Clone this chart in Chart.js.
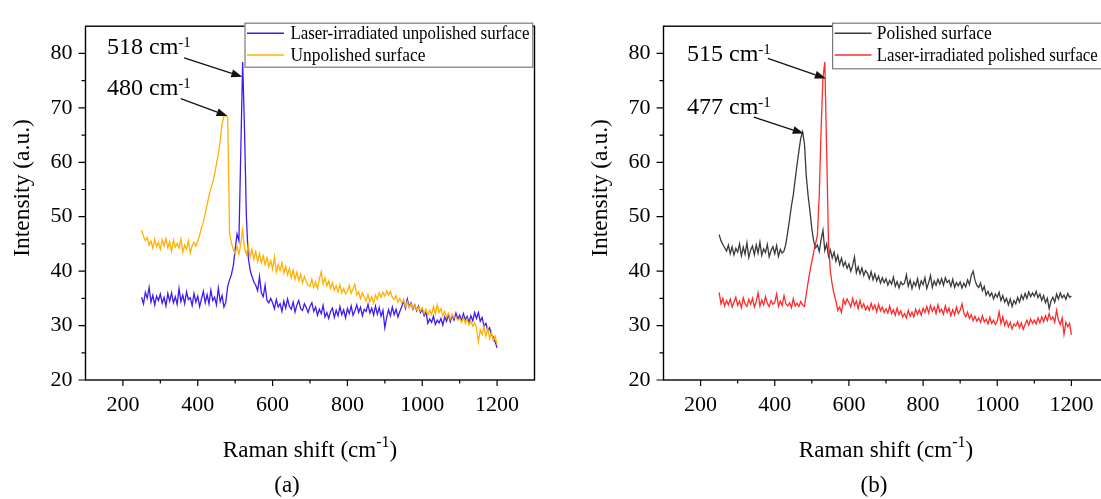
<!DOCTYPE html>
<html><head><meta charset="utf-8">
<script src="https://cdn.jsdelivr.net/npm/chart.js@4.4.1/dist/chart.umd.min.js"></script>
<style>
html,body{margin:0;padding:0;background:#fff;overflow:hidden;width:1101px;height:499px;}
#wa{position:absolute;left:0;top:0;width:550px;height:499px;}
#wb{position:absolute;left:550px;top:0;width:575px;height:499px;}
canvas{display:block;}
</style></head><body>
<div id="wa"><canvas id="ca" width="550" height="499"></canvas></div>
<div id="wb"><canvas id="cb" width="575" height="499"></canvas></div>
<script>
// ---- data ----
const ramanShift = [
250,255,260,265,270,275,280,285,290,295,
300,305,310,315,320,325,330,335,340,345,
350,355,360,365,370,375,380,385,390,395,
400,405,410,415,420,425,430,435,440,445,
450,455,460,465,470,475,480,485,490,495,
500,505,510,515,520,525,530,535,540,545,
550,555,560,565,570,575,580,585,590,595,
600,605,610,615,620,625,630,635,640,645,
650,655,660,665,670,675,680,685,690,695,
700,705,710,715,720,725,730,735,740,745,
750,755,760,765,770,775,780,785,790,795,
800,805,810,815,820,825,830,835,840,845,
850,855,860,865,870,875,880,885,890,895,
900,905,910,915,920,925,930,935,940,945,
950,955,960,965,970,975,980,985,990,995,
1000,1005,1010,1015,1020,1025,1030,1035,1040,1045,
1050,1055,1060,1065,1070,1075,1080,1085,1090,1095,
1100,1105,1110,1115,1120,1125,1130,1135,1140,1145,
1150,1155,1160,1165,1170,1175,1180,1185,1190,1195,
1200];

// (a) Laser-irradiated unpolished surface
const laserUnpolished = [
35.2,34.0,36.1,35.0,37.0,34.3,35.6,33.8,35.4,34.6,
35.8,34.1,35.2,33.6,35.9,34.5,36.0,34.2,35.3,33.9,
36.8,34.4,35.6,34.0,36.2,34.8,35.1,33.7,35.9,34.3,
35.4,33.5,34.9,36.3,34.2,35.7,34.0,36.5,34.6,35.2,
33.8,36.9,34.4,35.5,33.4,34.3,37.2,38.4,39.4,41.0,
44.0,46.8,45.6,62.0,78.4,66.0,50.0,42.5,40.2,39.0,
38.0,37.4,36.4,39.0,36.0,35.3,37.4,34.6,34.2,35.0,
34.2,33.1,34.8,33.4,34.0,32.6,34.5,33.2,34.9,33.5,
33.0,34.3,32.5,33.8,34.6,33.1,32.8,34.0,33.3,32.4,
33.5,34.2,32.6,33.4,31.9,33.0,32.2,33.7,31.6,32.4,
31.3,32.6,33.2,31.5,32.8,31.8,33.5,32.0,32.9,31.4,
33.1,32.2,33.6,31.9,32.7,33.8,32.4,33.4,31.8,33.0,
32.6,33.9,32.3,33.2,31.9,33.6,32.1,33.3,31.7,32.8,
29.6,31.5,32.9,31.8,33.4,32.0,33.0,31.6,32.6,33.4,
34.6,33.2,34.9,33.5,34.2,33.0,33.8,32.7,33.6,32.4,
33.0,31.8,32.5,30.4,31.2,30.6,31.7,30.2,31.0,30.5,
31.3,30.1,31.6,30.8,32.0,30.7,31.9,31.0,32.3,31.2,
31.9,30.9,32.2,31.1,31.7,30.6,31.8,30.9,32.4,31.3,
32.4,30.8,31.5,29.9,30.4,29.1,29.6,28.3,27.9,27.0,
25.9];

// (a) Unpolished surface
const unpolished = [
47.5,46.4,45.6,46.2,44.8,45.5,44.2,45.9,44.5,45.3,
44.0,45.8,44.6,46.0,44.3,45.4,43.6,45.7,44.4,45.1,
44.2,45.9,43.5,44.8,44.0,45.6,43.3,44.7,45.3,44.6,
45.5,46.6,48.0,49.0,50.6,52.2,53.8,55.2,56.3,57.8,
59.7,61.5,64.0,67.0,68.5,68.6,68.2,47.0,45.2,44.0,
43.2,44.5,43.1,45.0,47.6,44.2,43.1,44.8,42.6,44.0,
42.2,43.6,41.8,43.2,41.5,42.8,41.2,42.5,40.8,41.9,
40.4,42.6,39.8,41.2,40.1,41.5,39.6,40.9,39.3,40.5,
38.8,40.2,38.5,39.8,38.3,39.4,37.8,39.0,38.1,37.4,
37.2,38.5,37.0,38.0,36.8,38.6,39.9,37.6,38.8,37.3,
38.2,36.8,37.9,36.5,37.3,36.2,37.5,36.0,36.8,35.8,
36.3,37.4,35.9,36.8,37.6,35.6,36.2,34.9,36.0,35.2,
34.5,35.7,34.4,35.3,34.1,35.6,34.8,36.0,35.2,36.1,
35.4,36.4,35.6,36.3,35.1,34.8,35.5,34.3,35.0,34.2,
34.6,33.5,34.4,33.3,34.0,33.1,33.8,32.9,33.4,32.7,
33.3,32.2,33.0,31.9,32.8,32.0,33.5,32.1,33.8,32.4,
33.1,31.8,32.6,31.5,32.3,31.2,32.0,31.4,31.6,31.0,
31.3,30.6,31.5,30.4,31.2,30.1,30.8,29.9,30.5,29.6,
27.0,29.2,28.4,29.8,28.0,29.5,27.6,28.8,27.2,28.0,
26.5];

// (b) Polished surface
const polished = [
46.7,45.6,44.9,44.3,43.7,44.8,43.2,44.5,43.0,44.2,
43.5,45.0,42.8,44.4,43.1,45.2,42.5,43.9,44.6,43.0,
44.8,43.3,45.3,42.9,44.1,43.4,44.9,42.6,43.8,44.5,
43.2,44.7,42.7,44.0,43.3,43.7,45.0,47.2,49.5,52.0,
54.0,56.8,59.5,62.0,64.4,65.6,63.5,57.5,53.8,51.0,
47.8,45.5,44.3,44.8,43.6,45.8,47.5,43.8,45.0,42.7,
43.9,42.4,43.5,41.8,42.9,41.2,42.4,40.9,41.7,40.5,
41.3,40.0,41.0,42.6,39.7,40.8,39.5,40.6,39.2,40.1,
39.6,38.6,39.9,38.4,39.5,38.2,39.1,37.8,38.8,37.9,
38.6,37.4,38.3,37.6,38.9,37.2,38.1,36.9,38.0,37.5,
37.8,39.3,37.2,38.4,36.8,38.0,37.3,38.6,36.9,38.2,
37.5,38.8,36.8,37.9,39.2,37.0,38.2,37.4,38.5,37.6,
38.6,37.4,38.8,37.9,38.3,37.2,38.5,37.0,37.9,37.3,
38.0,36.9,37.8,37.1,38.4,37.5,39.2,40.0,38.3,37.4,
37.0,37.8,36.4,37.2,35.6,36.3,35.4,36.0,34.9,35.8,
35.2,36.1,34.6,35.5,34.3,35.0,33.8,34.9,33.5,34.6,
34.0,35.2,34.3,35.6,34.8,35.9,35.0,36.2,35.3,36.0,
35.4,36.3,35.1,35.8,34.6,35.5,34.2,35.0,33.1,34.5,
35.2,34.3,35.8,34.9,36.0,35.1,35.6,34.8,35.9,35.2,
35.4];

// (b) Laser-irradiated polished surface
const laserPolished = [
36.1,34.0,35.0,33.6,34.6,33.8,34.9,33.4,34.3,35.2,
33.7,34.5,33.3,35.1,34.0,33.5,34.8,33.9,35.0,33.4,
34.4,36.0,33.6,34.7,33.8,35.3,34.1,33.5,34.6,33.9,
34.3,35.8,33.5,34.5,33.7,35.5,34.0,33.6,34.2,33.3,
34.9,33.6,34.1,33.5,34.4,33.8,33.5,35.8,38.0,40.0,
41.8,43.5,45.0,46.6,54.0,66.0,75.5,78.4,62.0,45.0,
40.0,37.5,35.8,34.5,32.8,33.4,32.4,34.8,33.9,34.9,
34.2,33.4,35.0,33.7,34.5,33.1,34.6,33.3,34.0,32.9,
33.6,32.8,34.1,33.0,33.8,32.5,33.9,32.7,33.4,32.4,
33.1,32.3,33.6,32.2,32.9,31.9,33.2,32.0,32.7,31.6,
32.2,31.4,32.8,31.7,32.5,31.6,33.0,32.1,32.9,31.9,
33.2,32.4,33.5,32.3,33.7,32.6,33.4,32.2,33.8,32.5,
33.0,32.1,33.6,32.4,33.2,31.8,32.9,32.0,33.4,32.2,
32.8,34.0,32.3,31.6,32.5,31.3,32.0,30.9,31.7,30.8,
31.4,30.6,31.8,30.7,31.2,30.3,31.5,30.4,31.0,30.2,
30.8,32.5,30.4,31.6,30.0,30.9,29.8,30.6,29.4,30.3,
29.9,30.7,29.6,30.5,29.3,30.2,31.0,30.1,31.2,30.4,
31.0,30.3,31.4,30.5,31.6,30.7,31.8,30.9,32.2,31.1,
31.6,30.6,32.8,31.0,30.2,31.4,28.4,30.6,29.8,30.4,
28.3];

const xTickLabels = [200, 400, 600, 800, 1000, 1200];
const xMinorTicks = [300, 500, 700, 900, 1100];
const yTickLabels = [20, 30, 40, 50, 60, 70, 80];
const yMinorTicks = [25, 35, 45, 55, 65, 75];
const namesA = ['Laser-irradiated unpolished surface', 'Unpolished surface'];
const namesB = ['Polished surface', 'Laser-irradiated polished surface'];
const peaksA = ['518', '480'];
const peaksB = ['515', '477'];

// ---- drawing helpers ----
const SERIF = '"Liberation Serif", "Times New Roman", serif';
function font(sz){ return sz + 'px ' + SERIF; }

function drawRuns(ctx, runs, x, y, align){
  let w = 0;
  runs.forEach(r => { ctx.font = font(r.size); r.w = ctx.measureText(r.t).width; w += r.w; });
  let cx = align === 'center' ? x - w / 2 : x;
  ctx.textAlign = 'left';
  ctx.textBaseline = 'alphabetic';
  runs.forEach(r => { ctx.font = font(r.size); ctx.fillText(r.t, cx, y + (r.dy || 0)); cx += r.w; });
}

function arrow(ctx, x1, y1, x2, y2){
  const ang = Math.atan2(y2 - y1, x2 - x1);
  const L = 11, W = 4;
  const bx = x2 - L * Math.cos(ang), by = y2 - L * Math.sin(ang);
  ctx.beginPath();
  ctx.moveTo(x1, y1); ctx.lineTo(bx, by);
  ctx.lineWidth = 1.3; ctx.strokeStyle = '#111'; ctx.stroke();
  ctx.beginPath();
  ctx.moveTo(x2, y2);
  ctx.lineTo(bx + W * Math.sin(ang), by - W * Math.cos(ang));
  ctx.lineTo(bx - W * Math.sin(ang), by + W * Math.cos(ang));
  ctx.closePath(); ctx.fillStyle = '#111'; ctx.fill();
}

function decor(cfg){
  return {
    id: 'decor',
    afterDraw(chart){
      const ctx = chart.ctx, a = chart.chartArea;
      const xs = chart.scales.x, ys = chart.scales.y;
      ctx.save();
      // frame
      ctx.strokeStyle = '#000'; ctx.lineWidth = 1.4;
      ctx.strokeRect(a.left, a.top, a.right - a.left, a.bottom - a.top);
      // tick marks
      ctx.beginPath();
      ctx.lineWidth = 1.2;
      xTickLabels.forEach(v => { const p = xs.getPixelForValue(v); ctx.moveTo(p, a.bottom); ctx.lineTo(p, a.bottom + 6); });
      xMinorTicks.forEach(v => { const p = xs.getPixelForValue(v); ctx.moveTo(p, a.bottom); ctx.lineTo(p, a.bottom + 3.5); });
      yTickLabels.forEach(v => { const p = ys.getPixelForValue(v); ctx.moveTo(a.left, p); ctx.lineTo(a.left - 7, p); });
      yMinorTicks.forEach(v => { const p = ys.getPixelForValue(v); ctx.moveTo(a.left, p); ctx.lineTo(a.left - 4, p); });
      ctx.stroke();

      // y title
      ctx.save();
      ctx.translate(a.left - 63, 188);
      ctx.rotate(-Math.PI / 2);
      ctx.fillStyle = '#000';
      ctx.font = font(23.5);
      ctx.textAlign = 'center'; ctx.textBaseline = 'middle';
      ctx.fillText('Intensity (a.u.)', 0, 0);
      ctx.restore();

      // x title
      ctx.fillStyle = '#000';
      drawRuns(ctx, [{t:'Raman shift (cm', size:23}, {t:'-1', size:16, dy:-10}, {t:')', size:23}],
               (a.left + a.right) / 2, 457, 'center');
      // panel label
      drawRuns(ctx, [{t:cfg.panel, size:23}], cfg.panelX, 492, 'center');

      // peak annotations
      cfg.peaks.forEach((pk, i) => {
        const an = cfg.ann[i];
        ctx.fillStyle = '#000';
        drawRuns(ctx, [{t:pk + ' cm', size:24}, {t:'-1', size:15, dy:-7}],
                 xs.getPixelForValue(an.tx), ys.getPixelForValue(an.ty), 'left');
        arrow(ctx, xs.getPixelForValue(an.from[0]), ys.getPixelForValue(an.from[1]),
                   xs.getPixelForValue(an.to[0]), ys.getPixelForValue(an.to[1]));
      });

      // legend
      const lg = cfg.legend;
      ctx.fillStyle = '#fff';
      ctx.fillRect(lg.x0, lg.y0, lg.x1 - lg.x0, lg.y1 - lg.y0);
      ctx.strokeStyle = '#7a7a7a'; ctx.lineWidth = 1.2;
      ctx.strokeRect(lg.x0 + 0.5, lg.y0 + 0.5, lg.x1 - lg.x0, lg.y1 - lg.y0);
      chart.data.datasets.forEach((ds, i) => {
        const yy = lg.rows[i];
        ctx.beginPath(); ctx.moveTo(lg.lx0, yy); ctx.lineTo(lg.lx1, yy);
        ctx.strokeStyle = ds.borderColor; ctx.lineWidth = 1.5; ctx.stroke();
        ctx.fillStyle = '#000'; ctx.font = font(18.5);
        ctx.textAlign = 'left'; ctx.textBaseline = 'middle';
        ctx.fillText(ds.label, lg.tx, yy + 1, lg.maxW[i]);
      });
      ctx.restore();
    }
  };
}

function pts(ys){ return ramanShift.map((x, i) => ({x: x, y: ys[i]})); }

function makeChart(id, datasets, cfg){
  return new Chart(document.getElementById(id), {
    type: 'line',
    data: { datasets: datasets },
    options: {
      responsive: false, animation: false, devicePixelRatio: 1,
      layout: { padding: { left: 0, top: 14, right: cfg.padRight, bottom: 0 } },
      plugins: { legend: { display: false }, tooltip: { enabled: false } },
      elements: { point: { radius: 0 }, line: { borderWidth: 1.3, tension: 0 } },
      scales: {
        x: {
          type: 'linear', min: 100, max: 1300,
          grid: { display: false, drawTicks: false }, border: { display: false },
          afterBuildTicks: s => { s.ticks = xTickLabels.map(v => ({ value: v })); },
          afterFit: s => { s.height = 119; },
          ticks: { font: { family: SERIF, size: 22 }, color: '#000', padding: 12, maxRotation: 0, autoSkip: false,
                   callback: v => String(v) }
        },
        y: {
          type: 'linear', min: 20, max: 85,
          grid: { display: false, drawTicks: false }, border: { display: false },
          afterBuildTicks: s => { s.ticks = yTickLabels.map(v => ({ value: v })); },
          afterFit: s => { s.width = cfg.yWidth; },
          ticks: { font: { family: SERIF, size: 22 }, color: '#000', padding: 13, callback: v => String(v) }
        }
      }
    },
    plugins: [decor(cfg)]
  });
}

makeChart('ca', [
  { label: namesA[0], data: pts(laserUnpolished), borderColor: '#3b1cf2', order: 1 },
  { label: namesA[1], data: pts(unpolished), borderColor: '#ffb000', order: 0 }
], {
  padRight: 15.5, yWidth: 85.5, panel: '(a)', panelX: 287, peaks: peaksA,
  ann: [
    { tx: 157.6, ty: 79.9, from: [363.7, 79.2], to: [519, 75.7] },
    { tx: 157.6, ty: 72.4, from: [354.6, 71.7], to: [479.6, 68.5] }
  ],
  legend: { x0: 244.5, x1: 532.3, y0: 22.7, y1: 66.7, lx0: 247, lx1: 284, tx: 290.4, rows: [33.3, 55], maxW: [239, 135] }
});

makeChart('cb', [
  { label: namesB[0], data: pts(polished), borderColor: '#3a3a3a', order: 1 },
  { label: namesB[1], data: pts(laserPolished), borderColor: '#ff2b2b', order: 0 }
], {
  padRight: 16.5, yWidth: 113.5, panel: '(b)', panelX: 324, peaks: peaksB,
  ann: [
    { tx: 163.4, ty: 78.6, from: [381.4, 79.1], to: [537.8, 75.4] },
    { tx: 163.4, ty: 68.85, from: [343.6, 68.3], to: [478.2, 65.3] }
  ],
  legend: { x0: 282.1, x1: 560, y0: 22.7, y1: 68.3, lx0: 284.6, lx1: 321.5, tx: 326.8, rows: [33.3, 55], maxW: [115, 221] }
});
</script>
</body></html>
